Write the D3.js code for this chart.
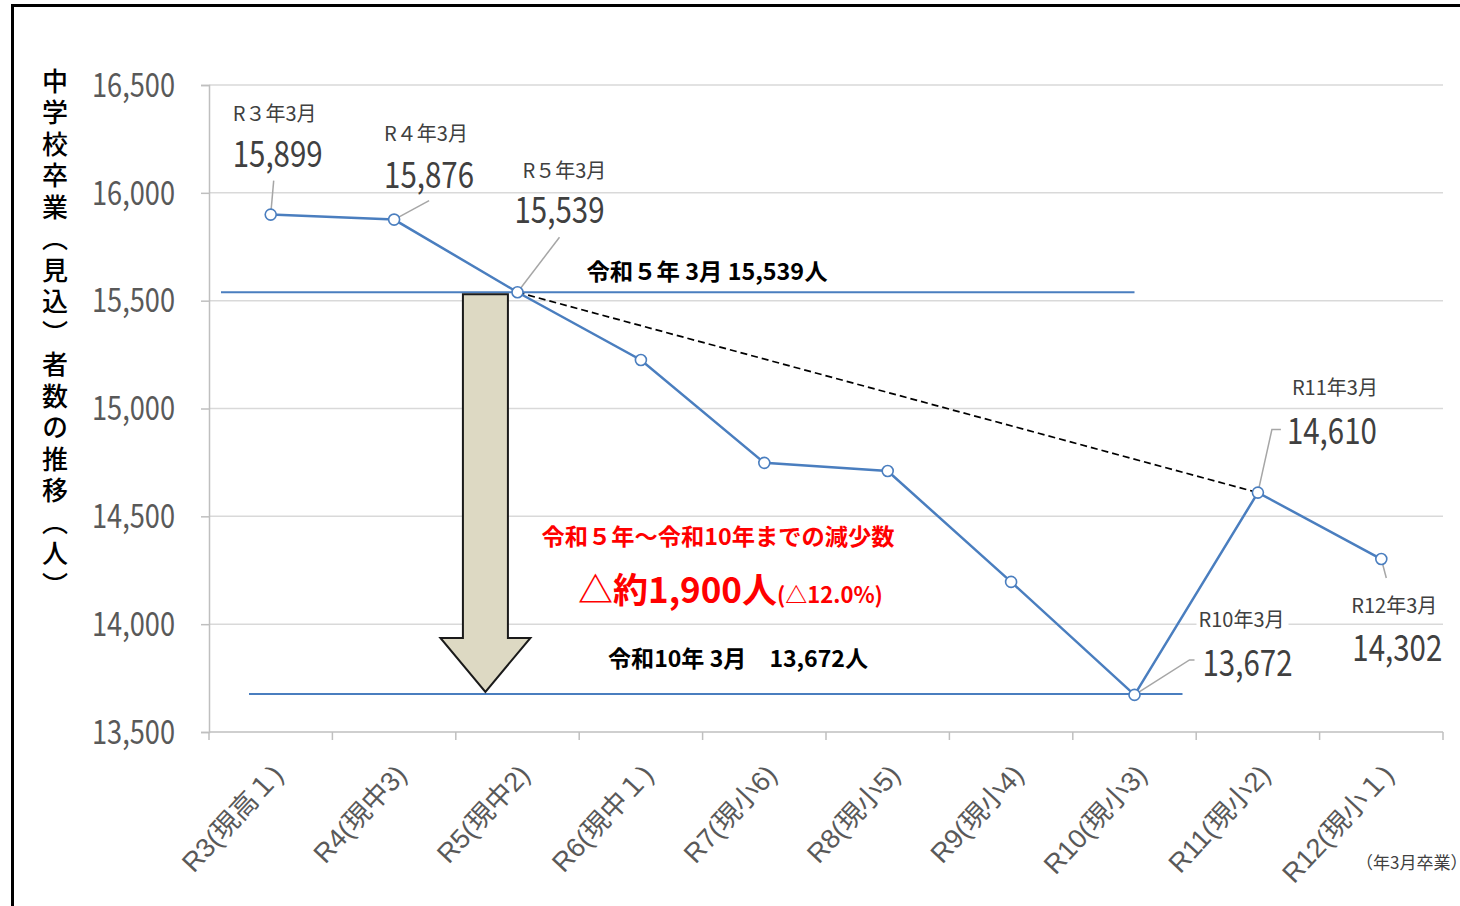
<!DOCTYPE html>
<html>
<head>
<meta charset="utf-8">
<script src="https://cdn.jsdelivr.net/npm/d3@7"></script>
<style>
  html, body { margin: 0; padding: 0; background: #fff; }
  svg { display: block; }
</style>
</head>
<body>
<div id="chart"></div>
<script>
// データ
const categories = ["R3(現高１)", "R4(現中3)", "R5(現中2)", "R6(現中１)", "R7(現小6)",
                    "R8(現小5)", "R9(現小4)", "R10(現小3)", "R11(現小2)", "R12(現小１)"];
const values = [15899, 15876, 15539, 15225, 14748, 14710, 14196, 13672, 14610, 14302];
const pointTitles = ["R３年3月", "R４年3月", "R５年3月", null, null, null, null, "R10年3月", "R11年3月", "R12年3月"];
const yTicks = [13500, 14000, 14500, 15000, 15500, 16000, 16500];
const yTitle = "中学校卒業（見込）者数の推移（人）";

// ラベルの位置（点からのオフセット）
const labelOffsets = {
    0: { tx: -38, ty: -94, vx: -38, vy: -48, leader: [[3, -34]] },
    1: { tx: -10, ty: -79, vx: -10, vy: -32, leader: [[35, -19]] },
    2: { tx: 5, ty: -114, vx: -3, vy: -69, leader: [[42, -55]] },
    7: { tx: 64, ty: -68, vx: 68, vy: -19, leader: [[55, -35], [60, -35]], bg: true },
    8: { tx: 34, ty: -98, vx: 29, vy: -49, leader: [[14, -63], [23, -63]] },
    9: { tx: -30, ty: 54, vx: -29, vy: 102, leader: [[5, 19]] }
};

const W = 1460, H = 906;
const FONT = "'Noto Sans CJK JP', 'Noto Sans', sans-serif";
const BLUE = "#4a7ebf";

const svg = d3.select("#chart").append("svg")
    .attr("width", W).attr("height", H)
    .style("font-family", FONT);

// 外枠
svg.append("rect")
    .attr("x", 12.5).attr("y", 5.5)
    .attr("width", W + 20).attr("height", H + 20)
    .attr("fill", "none").attr("stroke", "#000").attr("stroke-width", 3);

const x = d3.scaleBand().domain(categories).range([209, 1443]);
const y = d3.scaleLinear().domain([13500, 16500]).range([732, 85]);
const cx = (i) => x(categories[i]) + x.bandwidth() / 2;

// グリッド
svg.append("g").selectAll("line")
    .data(yTicks.slice(1))
    .join("line")
    .attr("x1", 209).attr("x2", 1443)
    .attr("y1", d => y(d)).attr("y2", d => y(d))
    .attr("stroke", "#d9d9d9").attr("stroke-width", 1.5);

// y軸
const yAxis = svg.append("g")
    .attr("transform", "translate(209,0)")
    .call(d3.axisLeft(y).tickValues(yTicks).tickFormat(d3.format(",")).tickSizeOuter(0).tickSize(8).tickPadding(26));
yAxis.select(".domain").attr("stroke", "#bfbfbf").attr("stroke-width", 1.5);
yAxis.selectAll(".tick line").attr("stroke", "#bfbfbf").attr("stroke-width", 1.5);
yAxis.selectAll(".tick text")
    .attr("font-family", FONT).attr("font-size", 33).attr("fill", "#595959")
    .attr("dy", "0.34em")
    .attr("textLength", 83).attr("lengthAdjust", "spacingAndGlyphs");

// x軸
const xAxis = svg.append("g").attr("transform", "translate(0,732)");
xAxis.append("line").attr("x1", 209).attr("x2", 1443)
    .attr("stroke", "#bfbfbf").attr("stroke-width", 1.5);
xAxis.selectAll("line.tk")
    .data(d3.range(categories.length + 1))
    .join("line").attr("class", "tk")
    .attr("x1", i => 209 + i * x.step()).attr("x2", i => 209 + i * x.step())
    .attr("y1", 0).attr("y2", 8)
    .attr("stroke", "#bfbfbf").attr("stroke-width", 1.5);
xAxis.selectAll("text")
    .data(categories)
    .join("text")
    .attr("transform", d => `translate(${x(d) + x.bandwidth() / 2 + 14},${44}) rotate(-47)`)
    .attr("text-anchor", "end")
    .attr("font-family", "'Liberation Sans', 'Noto Sans CJK JP', sans-serif")
    .attr("font-size", 27)
    .attr("fill", "#595959")
    .text(d => d);

svg.append("text")
    .attr("x", 1356).attr("y", 869)
    .attr("font-size", 17).attr("fill", "#404040")
    .text("（年3月卒業）");

// y軸タイトル
svg.append("text")
    .attr("x", 55).attr("y", 68)
    .attr("writing-mode", "vertical-rl")
    .attr("font-size", 26).attr("font-weight", 500)
    .attr("letter-spacing", 5.5)
    .attr("fill", "#000")
    .text(yTitle);

// 基準線
svg.append("line")
    .attr("x1", x(categories[0]) + 12).attr("x2", cx(7))
    .attr("y1", y(values[2])).attr("y2", y(values[2]))
    .attr("stroke", BLUE).attr("stroke-width", 2);
svg.append("line")
    .attr("x1", x(categories[0]) + 40).attr("x2", cx(7) + 48)
    .attr("y1", y(values[7]) - 1).attr("y2", y(values[7]) - 1)
    .attr("stroke", BLUE).attr("stroke-width", 2);

// 矢印
const ax = x(categories[2]) + x.bandwidth() * 0.24;
const aTop = y(values[2]) + 2, aTip = y(values[7]) - 3;
const shaftW = 22.5, headW = 45, headH = 54;
svg.append("path")
    .attr("d", `M${ax - shaftW},${aTop} L${ax + shaftW},${aTop} L${ax + shaftW},${aTip - headH}
      L${ax + headW},${aTip - headH} L${ax},${aTip} L${ax - headW},${aTip - headH}
      L${ax - shaftW},${aTip - headH} Z`)
    .attr("fill", "#ddd9c3").attr("stroke", "#1a1a1a").attr("stroke-width", 2);

// 破線
svg.append("line")
    .attr("x1", cx(2)).attr("y1", y(values[2]))
    .attr("x2", cx(8)).attr("y2", y(values[8]))
    .attr("stroke", "#000").attr("stroke-width", 1.7).attr("stroke-dasharray", "7,4");

// 折れ線
svg.append("path")
    .datum(values)
    .attr("d", d3.line().x((d, i) => cx(i)).y(d => y(d)))
    .attr("fill", "none").attr("stroke", BLUE).attr("stroke-width", 2.5);

// リーダー線
Object.keys(labelOffsets).forEach(k => {
    const i = +k, o = labelOffsets[k];
    const pts = [[cx(i), y(values[i])]].concat(o.leader.map(p => [cx(i) + p[0], y(values[i]) + p[1]]));
    svg.append("path")
        .attr("d", d3.line()(pts))
        .attr("fill", "none").attr("stroke", "#a6a6a6").attr("stroke-width", 1.5);
});

svg.append("g").selectAll("circle")
    .data(values)
    .join("circle")
    .attr("cx", (d, i) => cx(i)).attr("cy", d => y(d))
    .attr("r", 5.5)
    .attr("fill", "#fff").attr("stroke", BLUE).attr("stroke-width", 1.6);

// データラベル
Object.keys(labelOffsets).forEach(k => {
    const i = +k, o = labelOffsets[k];
    const px = cx(i), py = y(values[i]);
    if (o.bg) {
        svg.append("rect")
            .attr("x", px + o.tx - 2).attr("y", py + o.ty - 20)
            .attr("width", 92).attr("height", 26).attr("fill", "#fff");
    }
    svg.append("text")
        .attr("x", px + o.tx).attr("y", py + o.ty)
        .attr("font-size", 20).attr("fill", "#404040")
        .text(pointTitles[i]);
    svg.append("text")
        .attr("x", px + o.vx).attr("y", py + o.vy)
        .attr("font-size", 36).attr("fill", "#404040")
        .attr("textLength", 90).attr("lengthAdjust", "spacingAndGlyphs")
        .text(d3.format(",")(values[i]));
});

// 注記
svg.append("text")
    .attr("x", 707).attr("y", y(values[2]) - 12)
    .attr("text-anchor", "middle")
    .attr("font-size", 23).attr("font-weight", 700).attr("fill", "#000")
    .attr("textLength", 241).attr("lengthAdjust", "spacingAndGlyphs")
    .text("令和５年 3月 15,539人");
svg.append("text")
    .attr("x", 738).attr("y", y(values[7]) - 28)
    .attr("text-anchor", "middle")
    .attr("font-size", 23).attr("font-weight", 700).attr("fill", "#000")
    .attr("textLength", 260).attr("lengthAdjust", "spacingAndGlyphs")
    .text("令和10年 3月　13,672人");

svg.append("text")
    .attr("x", 718).attr("y", 545)
    .attr("text-anchor", "middle")
    .attr("font-size", 23).attr("font-weight", 700).attr("fill", "#ff0000")
    .attr("textLength", 353).attr("lengthAdjust", "spacingAndGlyphs")
    .text("令和５年～令和10年までの減少数");

const red = svg.append("text")
    .attr("x", 578).attr("y", 603)
    .attr("font-weight", 700).attr("fill", "#ff0000");
red.append("tspan").attr("font-size", 35).text("△約1,900人");
red.append("tspan").attr("font-size", 22).text("(△12.0%)");
</script>
</body>
</html>
